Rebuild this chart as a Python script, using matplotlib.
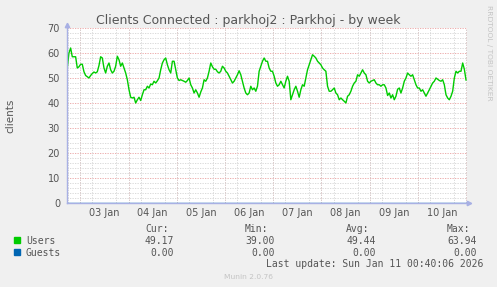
import numpy as np
import matplotlib
matplotlib.use("Agg")
import matplotlib.pyplot as plt
from matplotlib.patches import Rectangle

# users connected, sampled every ~50 min from Jan 2 17:32 (hours rel. to Jan 3 00:00)
users = [
    54, 60, 62, 58.5, 58.5, 58.5, 54, 54.5, 55.5, 55.5, 52.5, 51, 50.5, 50, 51, 51.8,
    52.4, 52, 52.5, 55, 58.5, 58, 54, 52, 54.7, 56, 53.3, 52, 52.7, 54.7, 58.7, 57.3,
    54.7, 56, 54, 52, 49.3, 45.3, 42.3, 42, 42.3, 40, 41.3, 42.3, 41, 43.3, 45.3, 45.3,
    46.7, 46, 47.6, 47.3, 48.7, 48, 48.9, 50, 53.3, 56, 57.3, 58, 55.3, 53.3, 52, 56.7,
    56.7, 53.3, 50, 49, 49.3, 49, 48.7, 48.3, 49, 50, 47.3, 46, 44, 45.3, 44, 42.3,
    44.4, 46, 49.3, 48.7, 50, 52.7, 56, 54.5, 53.5, 53.5, 52.5, 52, 52.7, 54.7, 54, 52.7,
    52, 50.7, 49.3, 48, 48.7, 50, 51.3, 52.9, 51.3, 48.7, 46, 44, 43.3, 44, 46.7, 45.3,
    46, 44.7, 46.7, 52.7, 54.7, 56.7, 58, 56.7, 56.7, 54, 52.7, 52.7, 50.7, 48, 46.7,
    47.3, 48.7, 47.3, 46, 48.7, 50.7, 48.7, 41.3, 43.3, 45.3, 46.7, 44.7, 42.3, 45.3, 47.3,
    46.7, 50, 53.3, 55.3, 57.3, 59.3, 58.7, 58, 56.7, 56, 55.3, 54, 53.3, 52.7, 46.7, 44.7,
    44.7, 45.3, 46, 44, 43.3, 41.3, 42, 41.3, 40.7, 40, 42.7, 43.3, 44.7, 46.7, 48, 48.7,
    51.3, 50.7, 52, 53.3, 52, 51.3, 48.7, 48, 48.7, 49, 49.3, 48, 47.3, 47.3, 46.7, 47.3,
    47.3, 46, 43, 44, 42, 43.3, 41.3, 42.7, 45.5, 46, 44, 46, 48.7, 50, 52, 51.3,
    50.7, 51.3, 49.3, 47.3, 46, 46, 44.7, 45.3, 44, 42.7, 44, 45.3, 46.7, 48, 48.7, 50,
    49.5, 49, 48.7, 49.3, 47.3, 43.3, 42, 41.3, 42.7, 44.7, 50, 52.7, 52, 52.7, 52.7, 56,
    53.5, 49.2,
]
guests = [0.0] * len(users)
start_hour = -6.46
step_hours = 0.83
hours = start_hour + np.arange(len(users)) * step_hours

day_labels = ['03 Jan', '04 Jan', '05 Jan', '06 Jan', '07 Jan', '08 Jan', '09 Jan', '10 Jan']
series_names = ['Users', 'Guests']
series_colors = ['#00cc00', '#0066b3']
stats = [['49.17', '39.00', '49.44', '63.94'],
         ['0.00', '0.00', '0.00', '0.00']]
stat_heads = ['Cur:', 'Min:', 'Avg:', 'Max:']

W, H = 497, 287
fig = plt.figure(figsize=(W / 100, H / 100), dpi=100, facecolor='#f0f0f0')
ax = fig.add_axes([67 / W, 1 - 203 / H, 400 / W, 175 / H])
ax.set_facecolor('white')

txt = '#555555'
red = '#e9a0a0'
gray = '#d4d4d4'
axis_col = '#a8b0e4'

ax.set_xlim(-6.6, 192.4)
ax.set_ylim(0, 70)

# grid: gray every 6h / 2 units, red every day / 10 units
ax.set_xticks(np.arange(-6, 193, 6), minor=True)
ax.set_yticks(np.arange(0, 71, 2), minor=True)
ax.grid(which='minor', color=gray, linestyle=(0, (1.5, 1.5)), linewidth=0.6)
for d in range(0, 193, 24):
    ax.axvline(d, color=red, linestyle=(0, (1.5, 1.5)), linewidth=0.6, zorder=1)
for v in range(10, 71, 10):
    ax.axhline(v, color=red, linestyle=(0, (1.5, 1.5)), linewidth=0.6, zorder=1)

ax.set_xticks(12 + 24 * np.arange(len(day_labels)))
ax.set_xticklabels(day_labels)
ax.set_yticks(np.arange(0, 71, 10))
ax.tick_params(which='both', length=0, labelsize=7, colors=txt)
ax.tick_params(axis='x', pad=3.5)
ax.tick_params(axis='y', pad=5)

ax.plot(hours, guests, color=series_colors[1], linewidth=1.0, zorder=2)
ax.plot(hours, users, color=series_colors[0], linewidth=1.0, zorder=3)

for s in ['top', 'right']:
    ax.spines[s].set_visible(False)
for s in ['left', 'bottom']:
    ax.spines[s].set_color(axis_col)
    ax.spines[s].set_linewidth(1.0)
    ax.spines[s].set_zorder(4)
ax.plot([1.005], [0], marker='>', color=axis_col, markersize=3.2, transform=ax.transAxes, clip_on=False)
ax.plot([0], [1.02], marker='^', color=axis_col, markersize=3.2, transform=ax.transAxes, clip_on=False)

ax.set_ylabel('clients', fontsize=7.5, color=txt)
ax.yaxis.set_label_coords(-0.13, 0.5)

fig.text(248 / W, 1 - 24 / H, 'Clients Connected : parkhoj2 : Parkhoj - by week',
         ha='center', va='baseline', fontsize=9, color=txt)
fig.text(488.5 / W, 1 - 5 / H, 'RRDTOOL / TOBI OETIKER', rotation=270,
         ha='center', va='top', fontsize=5.4, color='#c4c4c4')

# legend block
mono = 'DejaVu Sans Mono'
head_x = [168.5, 268.5, 369.5, 470]
val_x = [174, 275, 376, 477]
for hx, h in zip(head_x, stat_heads):
    fig.text(hx / W, 1 - 232 / H, h, ha='right', va='baseline', fontsize=7, family=mono, color=txt)
for i, (name, col) in enumerate(zip(series_names, series_colors)):
    base = 243.5 + 12 * i
    fig.patches.append(Rectangle((14 / W, 1 - (base - 1) / H), 6 / W, 6 / H,
                                 transform=fig.transFigure, color=col))
    fig.text(26 / W, 1 - base / H, name, ha='left', va='baseline', fontsize=7, family=mono, color=txt)
    for vx, v in zip(val_x, stats[i]):
        fig.text(vx / W, 1 - base / H, v, ha='right', va='baseline', fontsize=7, family=mono, color=txt)
fig.text(483 / W, 1 - 267 / H, 'Last update: Sun Jan 11 00:40:06 2026', ha='right', va='baseline',
         fontsize=7, family=mono, color=txt)
fig.text(248 / W, 1 - 279 / H, 'Munin 2.0.76', ha='center', va='baseline', fontsize=5.4, color='#c4c4c4')

fig.savefig('out.png', dpi=100, facecolor=fig.get_facecolor())
